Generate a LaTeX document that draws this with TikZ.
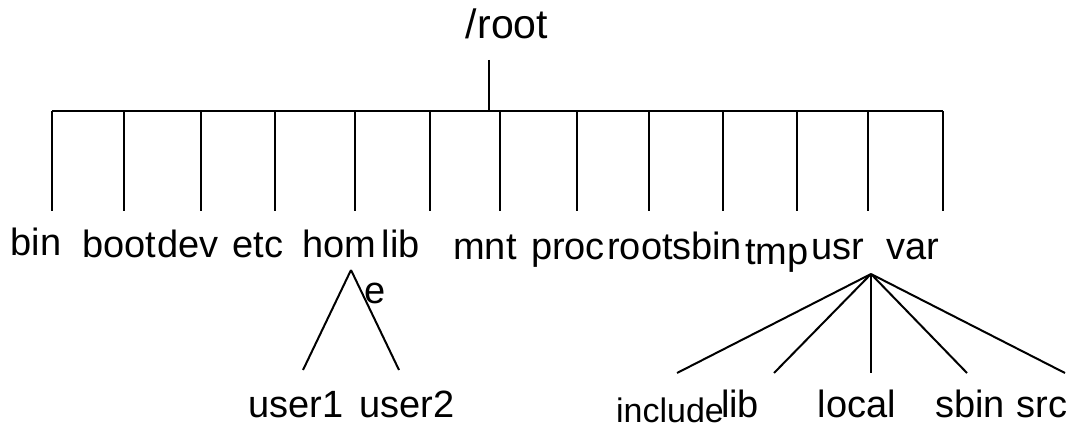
\documentclass[tikz,border=0pt]{standalone}
\usepackage{fontspec}
\setmainfont{Liberation Sans}

\begin{document}
\begin{tikzpicture}[x=1pt,y=-1pt,line width=2.4pt]
    \useasboundingbox (0,0) rectangle (1078,428);
    \begin{scope}[every node/.style={font=\fontsize{38}{46}\selectfont,inner sep=0pt,anchor=base}]

\node (dir_root) [font=\fontsize{41}{46}\selectfont] at (507,39) {/root};

\coordinate (trunk_top) at (489,60);
\coordinate (trunk_bot) at (489,111);
\coordinate (bar_left)  at (52,111);
\coordinate (bar_right) at (943,111);

\draw (trunk_top) -- (trunk_bot);
\draw (bar_left) -- (bar_right);

\coordinate (foot_bin)  at ( 52,211);
\coordinate (foot_boot) at (124,211);
\coordinate (foot_dev)  at (201,211);
\coordinate (foot_etc)  at (275,211);
\coordinate (foot_home) at (355,211);
\coordinate (foot_lib)  at (430,211);
\coordinate (foot_mnt)  at (500,211);
\coordinate (foot_proc) at (577,211);
\coordinate (foot_root) at (649,211);
\coordinate (foot_sbin) at (723,211);
\coordinate (foot_tmp)  at (797,211);
\coordinate (foot_usr)  at (868,211);
\coordinate (foot_var)  at (943,211);

\draw (foot_bin  |- bar_left) -- (foot_bin);
\draw (foot_boot |- bar_left) -- (foot_boot);
\draw (foot_dev  |- bar_left) -- (foot_dev);
\draw (foot_etc  |- bar_left) -- (foot_etc);
\draw (foot_home |- bar_left) -- (foot_home);
\draw (foot_lib  |- bar_left) -- (foot_lib);
\draw (foot_mnt  |- bar_left) -- (foot_mnt);
\draw (foot_proc |- bar_left) -- (foot_proc);
\draw (foot_root |- bar_left) -- (foot_root);
\draw (foot_sbin |- bar_left) -- (foot_sbin);
\draw (foot_tmp  |- bar_left) -- (foot_tmp);
\draw (foot_usr  |- bar_left) -- (foot_usr);
\draw (foot_var  |- bar_left) -- (foot_var);

\node (dir_bin)   at ( 36,255) {bin};
\node (dir_boot)  at (119,257) {boot};
\node (dir_dev)   at (188,257) {dev};
\node (dir_etc)   at (258,257) {etc};
\node (dir_home)  [anchor=north west,align=left] at (301,229) {hom\\\hspace*{62pt}e};
\node (dir_lib)   at (401,257) {lib};
\node (dir_mnt)   at (485,259) {mnt};
\node (dir_proc)  at (568,259) {proc};
\node (dir_rootd) at (640,259) {root};
\node (dir_sbin)  at (707,259) {sbin};
\node (dir_tmp)   at (777,264) {tmp};
\node (dir_usr)   at (838,259) {usr};
\node (dir_var)   at (913,259) {var};

    \end{scope}
    \begin{scope}[line width=2pt,every node/.style={font=\fontsize{38}{46}\selectfont,inner sep=0pt,anchor=base}]

\coordinate (home_fork) at (351,270);
\coordinate (end_user1) at (303,370);
\coordinate (end_user2) at (399,370);

\draw (home_fork) -- (end_user1);
\draw (home_fork) -- (end_user2);

\node (dir_user1) at (296,417) {user1};
\node (dir_user2) at (407,417) {user2};

\coordinate (usr_fork)    at (871,274);
\coordinate (end_include) at (677,373);
\coordinate (end_ulib)    at (774,373);
\coordinate (end_local)   at (871,373);
\coordinate (end_usbin)   at (967,373);
\coordinate (end_src)     at (1065,373);

\draw (usr_fork) -- (end_include);
\draw (usr_fork) -- (end_ulib);
\draw (usr_fork) -- (end_local);
\draw (usr_fork) -- (end_usbin);
\draw (usr_fork) -- (end_src);

\node (dir_include) [font=\fontsize{34}{40}\selectfont] at (670,422) {include};
\node (dir_ulib)    at ( 740,417) {lib};
\node (dir_local)   at ( 857,417) {local};
\node (dir_usbin)   at ( 970,417) {sbin};
\node (dir_src)     at (1042,417) {src};

    \end{scope}
    \end{tikzpicture}
\end{document}
